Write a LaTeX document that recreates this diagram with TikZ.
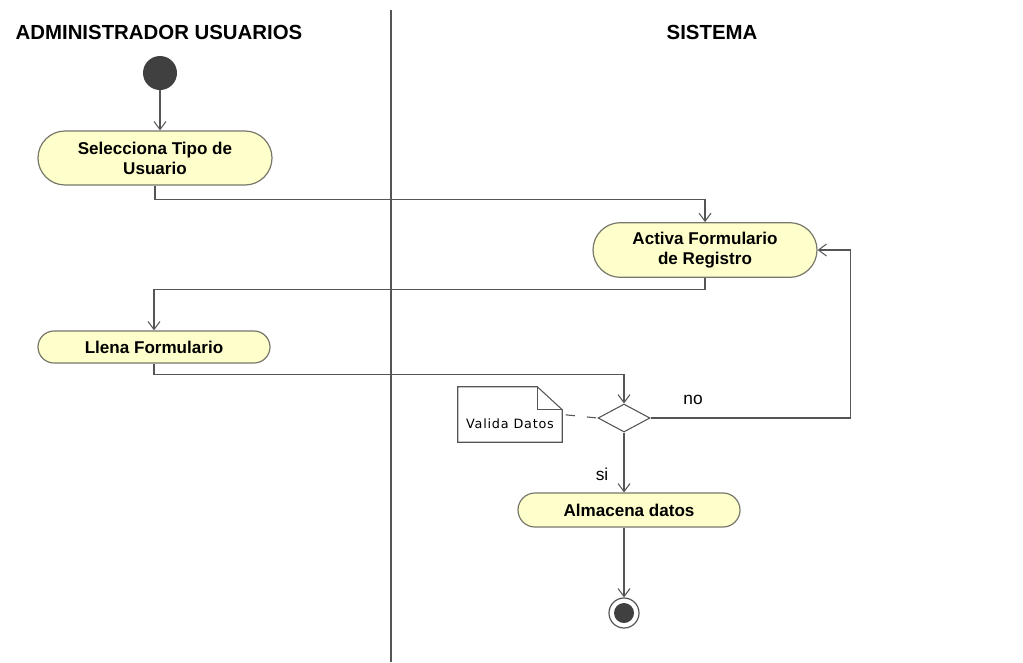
\documentclass[tikz,border=0pt]{standalone}
\usepackage{fontspec}
\setmainfont{Liberation Sans}
\newfontfamily\notafont[LetterSpace=6]{DejaVu Sans}
\usetikzlibrary{arrows.meta,shapes.misc,shapes.geometric,calc}
\definecolor{actfill}{HTML}{FFFFCC}
\definecolor{actline}{HTML}{77776A}
\definecolor{flowline}{HTML}{555555}
\tikzset{
  accion/.style={rounded rectangle, draw=actline, fill=actfill, line width=0.9pt,
    font=\bfseries\fontsize{12.8}{15}\selectfont, align=center, inner sep=0pt},
  flujo/.style={draw=flowline, line width=0.8pt, -{Straight Barb[length=6pt,width=9pt]}},
  titulo/.style={font=\bfseries\fontsize{15.3}{18}\selectfont},
  etiqueta/.style={font=\fontsize{13}{15}\selectfont},
}

\begin{document}
\begin{tikzpicture}[x=0.75pt,y=-0.75pt]
\useasboundingbox (0,0) rectangle (1023,662);

% carriles
\node[titulo] (adm) at (159,32) {ADMINISTRADOR USUARIOS};
\node[titulo] (sis) at (712,32) {SISTEMA};
\draw[flowline, line width=0.8pt] (391,10) -- (391,662);

% nodos
\node[circle, fill=black!75, minimum size=25.5pt, inner sep=0pt] (ini) at (160,73) {};
\node[accion, minimum width=175.5pt, minimum height=40.5pt] (sel) at (155,158) {Selecciona Tipo de\\Usuario};
\node[accion, minimum width=168pt, minimum height=41pt] (act) at (705,250) {Activa Formulario\\de Registro};
\node[accion, minimum width=174pt, minimum height=24pt] (llena) at (154,347) {Llena Formulario};
\node[diamond, draw=flowline, fill=white, line width=0.8pt, minimum width=39pt, minimum height=21pt, inner sep=0pt] (dec) at (624,418) {};
\node[accion, minimum width=166.5pt, minimum height=25.5pt] (alm) at (629,510) {Almacena datos};
\node[circle, draw=flowline, line width=0.9pt, minimum size=22.5pt, inner sep=0pt] (fin) at (624,613) {};
\node[circle, fill=black!75, minimum size=15pt, inner sep=0pt] (finin) at (fin) {};

% nota
\node[minimum width=78pt, text height=30.75pt, text depth=10.5pt, inner sep=0pt,
  font=\notafont\fontsize{9.6}{11}\selectfont] (nota) at (510,414.5) {Valida Datos};
\draw[flowline, line width=0.8pt] (nota.north west) -- ($(nota.north east)+(-25,0)$)
  -- ($(nota.north east)+(0,23)$) -- (nota.south east) -- (nota.south west) -- cycle;
\draw[flowline, line width=0.8pt] ($(nota.north east)+(-25,0)$) -- ($(nota.north east)+(-25,23)$)
  -- ($(nota.north east)+(0,23)$);
\draw[flowline, line width=0.8pt, dash pattern=on 7pt off 9pt, dash phase=-2.5pt] (nota.east) -- (dec.west);

% flujos
\draw[flujo] (ini.south) -- (ini.south |- sel.north);
\draw[flujo] (sel.south) -- ++(0,14) -| (act.north);
\draw[flujo] (act.south) -- ++(0,12) -| (llena.north);
\draw[flujo] (llena.south) -- ++(0,11) -| (dec.north);
\draw[flujo] (dec.east) -- ++(200,0) |- (act.east);
\node[etiqueta] (no) at (693,400) {no};
\draw[flujo] (dec.south) -- (dec.south |- alm.north);
\node[etiqueta] (si) at (602,474) {si};
\draw[flujo] (alm.south -| fin) -- (fin.north);
\end{tikzpicture}
\end{document}
